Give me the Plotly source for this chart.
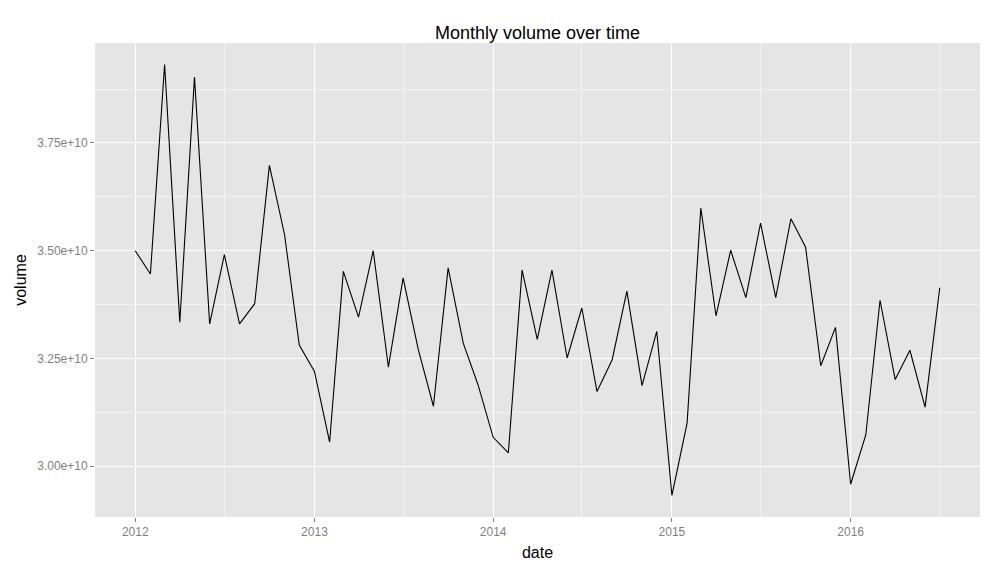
import pandas as pd
import plotly.graph_objects as go

dates = pd.date_range("2012-01-01", "2016-07-01", freq="MS")
volume_e10 = [
    3.500, 3.446, 3.932, 3.334, 3.903, 3.330, 3.491, 3.330, 3.377, 3.698, 3.537, 3.281,
    3.220, 3.056, 3.452, 3.346, 3.500, 3.230, 3.437, 3.271, 3.139, 3.460, 3.285, 3.189,
    3.067, 3.031, 3.455, 3.294, 3.455, 3.251, 3.367, 3.173, 3.247, 3.406, 3.187, 3.313,
    2.932, 3.100, 3.599, 3.349, 3.501, 3.391, 3.564, 3.391, 3.574, 3.508, 3.233, 3.322,
    2.958, 3.073, 3.385, 3.201, 3.269, 3.137, 3.414,
]
volume = [v * 1e10 for v in volume_e10]

y_tickvals = [3.00e10, 3.25e10, 3.50e10, 3.75e10]
y_ticktext = ["3.00e+10", "3.25e+10", "3.50e+10", "3.75e+10"]
x_tickvals = ["2012-01-01", "2013-01-01", "2014-01-01", "2015-01-01", "2016-01-01"]
x_ticktext = ["2012", "2013", "2014", "2015", "2016"]

# ggplot-style 5% expansion
ymin, ymax = min(volume), max(volume)
yr = ymax - ymin
y_range = [ymin - 0.05 * yr, ymax + 0.05 * yr]
xspan = dates[-1] - dates[0]
x_range = [dates[0] - 0.05 * xspan, dates[-1] + 0.05 * xspan]

fig = go.Figure(go.Scatter(
    x=dates, y=volume, mode="lines",
    line=dict(color="black", width=1.1),
    hoverinfo="x+y",
))

font = "Liberation Sans, Arial, sans-serif"
fig.update_layout(
    width=1000, height=571,
    margin=dict(l=95, r=20, t=43, b=54),
    paper_bgcolor="white",
    plot_bgcolor="#E5E5E5",
    font=dict(family=font, color="black"),
    showlegend=False,
    title=dict(text="Monthly volume over time", x=0.5375, xref="container",
               xanchor="center", y=1 - 33 / 571, yanchor="middle",
               font=dict(size=18, color="black", family=font)),
    xaxis=dict(
        range=x_range, type="date",
        tickvals=x_tickvals, ticktext=x_ticktext,
        showgrid=True, gridcolor="white", gridwidth=1.3,
        zeroline=False, showline=False,
        ticks="outside", ticklen=4, tickcolor="#7F7F7F", tickwidth=1,
        tickfont=dict(size=12, color="#7F7F7F", family=font),
        minor=dict(dtick="M6", tick0="2012-01-01", showgrid=True,
                   gridcolor="#F2F2F2", gridwidth=0.7, ticks=""),
        title=dict(text="date", font=dict(size=16, color="black", family=font), standoff=8),
    ),
    yaxis=dict(
        range=y_range,
        tickvals=y_tickvals, ticktext=y_ticktext,
        showgrid=True, gridcolor="white", gridwidth=1.3,
        zeroline=False, showline=False,
        ticks="outside", ticklen=4, tickcolor="#7F7F7F", tickwidth=1,
        tickfont=dict(size=12, color="#7F7F7F", family=font),
        minor=dict(tickvals=[3.125e10, 3.375e10, 3.625e10, 3.875e10], showgrid=True,
                   gridcolor="#F2F2F2", gridwidth=0.7, ticks=""),
        title=dict(text="volume", font=dict(size=16, color="black", family=font), standoff=6),
    ),
)

fig.write_html("out.html")
